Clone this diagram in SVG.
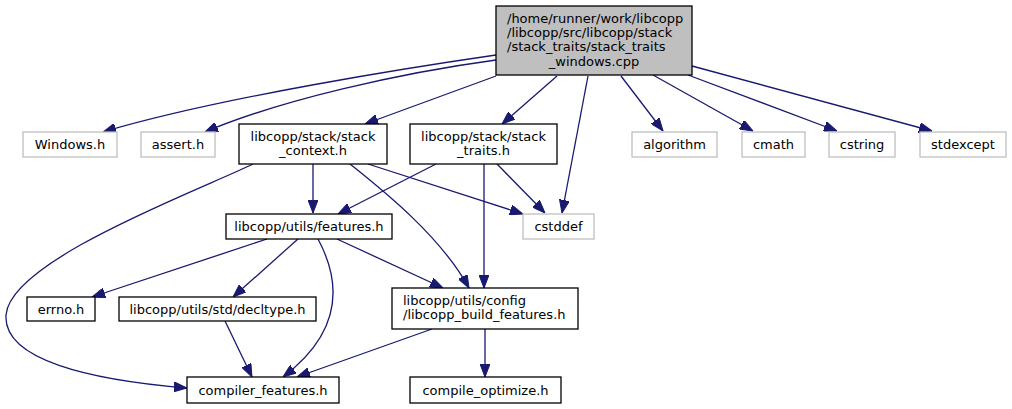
<svg xmlns="http://www.w3.org/2000/svg" width="1012" height="409" viewBox="0 0 1012 409">
<style>
text{font-family:"DejaVu Sans","Liberation Sans",sans-serif;font-size:13px;fill:#000}
.m{text-anchor:middle}
.nb{fill:#fff;stroke:#000;stroke-width:1.3}
.ng{fill:#fff;stroke:#bfbfbf;stroke-width:1.3}
.root{fill:#bfbfbf;stroke:#000;stroke-width:1.3}
.e{fill:none;stroke:#191970;stroke-width:1.3;marker-end:url(#a)}
</style>
<defs>
<marker id="a" viewBox="0 0 13 10" refX="13" refY="5" markerWidth="13" markerHeight="10" markerUnits="userSpaceOnUse" orient="auto">
<path d="M0,0 L13,5 L0,10 z" fill="#191970" stroke="#191970" stroke-width="1"/>
</marker>
</defs>
<g id="edges">
<path class="e" d="M496,55 C420,66 220,97 103,132"/>
<path class="e" d="M496,60 C400,73 280,100 205,132"/>
<path class="e" d="M496,76 L365,124"/>
<path class="e" d="M557,76 L502,124"/>
<path class="e" d="M588,76 L562,213"/>
<path class="e" d="M621,76 L663,131"/>
<path class="e" d="M653,75 L753,131"/>
<path class="e" d="M688,75 L837,131"/>
<path class="e" d="M692,66 L932,131"/>
<path class="e" d="M313,164 L313,213"/>
<path class="e" d="M368,164 L523,214"/>
<path class="e" d="M350,164 C380,188 440,235 469,288"/>
<path class="e" d="M253,164 C200,190 10,260 6,315 C3,360 90,380 187,388"/>
<path class="e" d="M436,164 L338,214"/>
<path class="e" d="M497,164 L545,213"/>
<path class="e" d="M484,164 L484,288"/>
<path class="e" d="M267,239 L92,297"/>
<path class="e" d="M298,239 L233,297"/>
<path class="e" d="M318,239 C340,280 345,330 283,377"/>
<path class="e" d="M225,321 L252,377"/>
<path class="e" d="M337,239 L443,288"/>
<path class="e" d="M432,329 L297,377"/>
<path class="e" d="M485,329 L485,377"/>
</g>
<g id="root">
<rect class="root" x="496" y="6" width="196" height="69"/>
<text x="507" y="23">/home/runner/work/libcopp</text>
<text x="507" y="37">/libcopp/src/libcopp/stack</text>
<text x="507" y="51">/stack_traits/stack_traits</text>
<text class="m" x="594" y="65.5">_windows.cpp</text>
</g>
<g id="windows_h"><rect class="ng" x="23" y="132" width="94" height="25"/><text class="m" x="70" y="149">Windows.h</text></g>
<g id="assert_h"><rect class="ng" x="141" y="132" width="74" height="25"/><text class="m" x="178" y="149">assert.h</text></g>
<g id="stack_context_h"><rect class="nb" x="239" y="124" width="148" height="40"/><text class="m" x="313" y="141">libcopp/stack/stack</text><text class="m" x="313" y="155">_context.h</text></g>
<g id="stack_traits_h"><rect class="nb" x="410" y="124" width="147" height="40"/><text class="m" x="483.5" y="141">libcopp/stack/stack</text><text class="m" x="483.5" y="155">_traits.h</text></g>
<g id="algorithm"><rect class="ng" x="632" y="132" width="85" height="25"/><text class="m" x="674.5" y="149">algorithm</text></g>
<g id="cmath"><rect class="ng" x="742" y="132" width="63" height="25"/><text class="m" x="773.5" y="149">cmath</text></g>
<g id="cstring"><rect class="ng" x="829" y="132" width="66" height="25"/><text class="m" x="862" y="149">cstring</text></g>
<g id="stdexcept"><rect class="ng" x="920" y="132" width="86" height="25"/><text class="m" x="963" y="149">stdexcept</text></g>
<g id="features_h"><rect class="nb" x="226" y="214" width="166" height="25"/><text class="m" x="309" y="231">libcopp/utils/features.h</text></g>
<g id="cstddef"><rect class="ng" x="523" y="214" width="71" height="25"/><text class="m" x="558.5" y="231">cstddef</text></g>
<g id="errno_h"><rect class="nb" x="27" y="297" width="68" height="24"/><text class="m" x="61" y="313.5">errno.h</text></g>
<g id="decltype_h"><rect class="nb" x="119" y="297" width="197" height="24"/><text class="m" x="217.5" y="313.5">libcopp/utils/std/decltype.h</text></g>
<g id="build_features_h"><rect class="nb" x="392" y="288" width="186" height="41"/><text x="403" y="305">libcopp/utils/config</text><text x="403" y="319">/libcopp_build_features.h</text></g>
<g id="compiler_features_h"><rect class="nb" x="187" y="377" width="152" height="26"/><text class="m" x="263" y="394.5">compiler_features.h</text></g>
<g id="compile_optimize_h"><rect class="nb" x="410" y="377" width="151" height="26"/><text class="m" x="485.5" y="394.5">compile_optimize.h</text></g>
</svg>
